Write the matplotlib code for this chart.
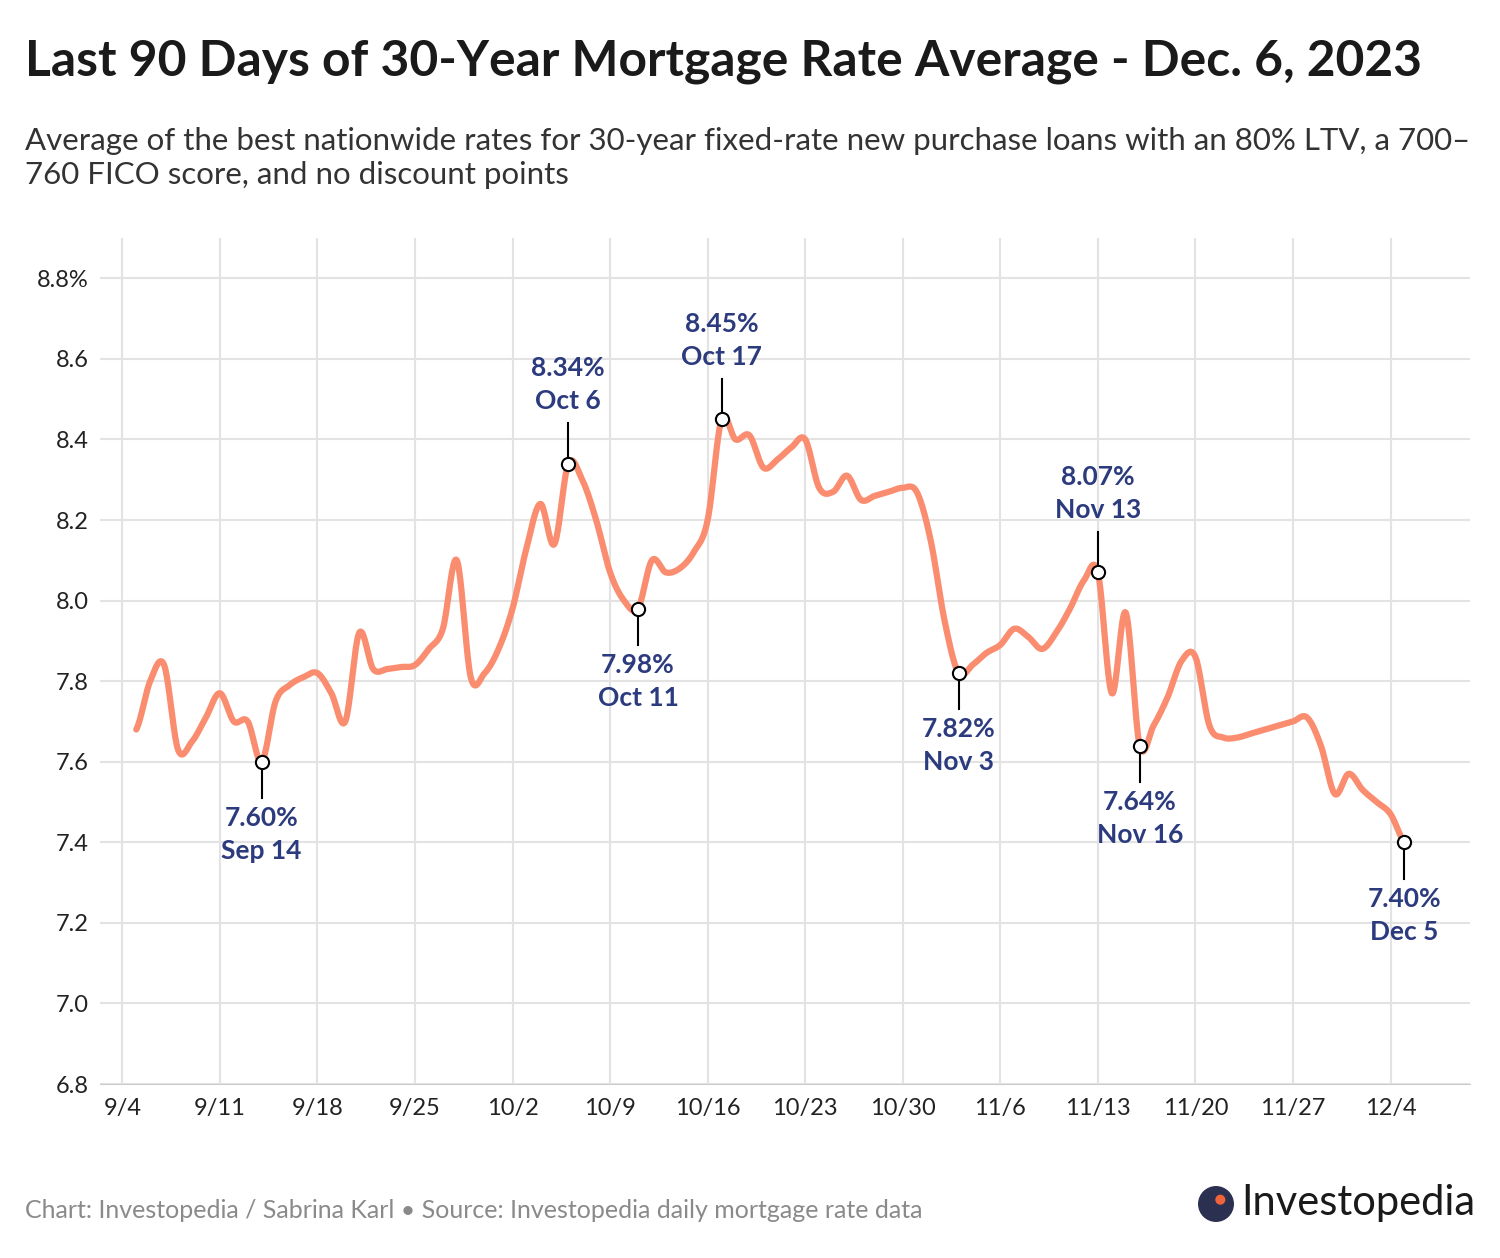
import matplotlib
matplotlib.use("Agg")
import matplotlib.pyplot as plt
import matplotlib.dates as mdates
import numpy as np
import datetime as dt

plt.rcParams['font.family'] = ['Lato', 'DejaVu Sans']

start = dt.date(2023, 9, 5)
rates = [7.68, 7.80, 7.84, 7.63, 7.65, 7.71, 7.77, 7.70, 7.70, 7.60,
         7.75, 7.79, 7.81, 7.82, 7.77, 7.70, 7.92, 7.83, 7.83, 7.835,
         7.84, 7.88, 7.93, 8.10, 7.81, 7.82, 7.88, 7.98, 8.13, 8.24,
         8.14, 8.34, 8.30, 8.20, 8.07, 8.00, 7.98, 8.10, 8.07, 8.08,
         8.12, 8.20, 8.45, 8.40, 8.41, 8.33, 8.35, 8.38, 8.40, 8.28,
         8.27, 8.31, 8.25, 8.26, 8.27, 8.28, 8.27, 8.15, 7.95, 7.82,
         7.84, 7.87, 7.89, 7.93, 7.91, 7.88, 7.92, 7.98, 8.05, 8.07,
         7.77, 7.97, 7.64, 7.69, 7.76, 7.85, 7.86, 7.69, 7.66, 7.66,
         7.67, 7.68, 7.69, 7.70, 7.71, 7.64, 7.52, 7.57, 7.53, 7.50,
         7.47, 7.40]
dates = [start + dt.timedelta(days=i) for i in range(len(rates))]
ann_dates = ["2023-09-14", "2023-10-06", "2023-10-11", "2023-10-17", "2023-11-03", "2023-11-13", "2023-11-16", "2023-12-05"]
ann_labels = ["7.60%\nSep 14", "8.34%\nOct 6", "7.98%\nOct 11", "8.45%\nOct 17", "7.82%\nNov 3", "8.07%\nNov 13", "7.64%\nNov 16", "7.40%\nDec 5"]
ann_up = [False, True, False, True, False, True, False, False]
yticks = [6.8, 7.0, 7.2, 7.4, 7.6, 7.8, 8.0, 8.2, 8.4, 8.6, 8.8]
ytick_labels = ["6.8", "7.0", "7.2", "7.4", "7.6", "7.8", "8.0", "8.2", "8.4", "8.6", "8.8%"]

# Catmull-Rom smoothing for drawing only
x = mdates.date2num(dates)
y = np.array(rates)
xs, ys = [], []
n = len(x)
for i in range(n - 1):
    p0 = y[max(i - 1, 0)]; p1 = y[i]; p2 = y[i + 1]; p3 = y[min(i + 2, n - 1)]
    t = np.linspace(0, 1, 20, endpoint=False)
    seg = 0.5 * ((2 * p1) + (-p0 + p2) * t + (2 * p0 - 5 * p1 + 4 * p2 - p3) * t**2 + (-p0 + 3 * p1 - 3 * p2 + p3) * t**3)
    xs.extend(x[i] + t * (x[i + 1] - x[i])); ys.extend(seg)
xs.append(x[-1]); ys.append(y[-1])

fig = plt.figure(figsize=(15, 12.58), dpi=100)
ax = fig.add_axes([100/1500, 1-1084/1258, 1370/1500, (1084-238)/1258])
ax.plot(xs, ys, color='#fa8d6f', lw=4.5, solid_capstyle='round', zorder=3)

navy = '#2c3a7e'
for d, lab, up in zip(ann_dates, ann_labels, ann_up):
    dd = dt.date.fromisoformat(d)
    xv = mdates.date2num(dd); yv = rates[(dd - start).days]
    if up:
        ax.plot([xv, xv], [yv, yv + 0.10], color='black', lw=1.5, zorder=4)
        ax.text(xv, yv + 0.125, lab, ha='center', va='bottom', color=navy, fontsize=19, fontweight='bold', linespacing=1.45)
    else:
        ax.plot([xv, xv], [yv, yv - 0.09], color='black', lw=1.5, zorder=4)
        ax.text(xv, yv - 0.11, lab, ha='center', va='top', color=navy, fontsize=19, fontweight='bold', linespacing=1.45)
    ax.scatter([xv], [yv], s=90, facecolor='white', edgecolor='black', lw=1.5, zorder=5)

ax.set_ylim(6.8, 8.9)
ax.set_xlim(mdates.date2num(dt.date(2023, 9, 4)) - 1.6, mdates.date2num(dt.date(2023, 12, 4)) + 5.7)
ax.set_yticks(yticks)
ax.set_yticklabels(ytick_labels)
xt = [dt.date(2023, 9, 4) + dt.timedelta(days=7 * k) for k in range(14)]
ax.set_xticks(mdates.date2num(xt))
ax.set_xticklabels([f"{d.month}/{d.day}" for d in xt])
ax.grid(True, color='#e3e3e3', lw=1.5)
ax.set_axisbelow(True)
for s in ['top', 'right', 'left']:
    ax.spines[s].set_visible(False)
ax.spines['bottom'].set_color('#cccccc')
ax.tick_params(axis='both', length=0, labelsize=17, colors='#222222')
ax.tick_params(axis='x', pad=10)
ax.tick_params(axis='y', pad=8)

fig.text(25/1500, 1-62/1258, "Last 90 Days of 30-Year Mortgage Rate Average - Dec. 6, 2023", fontsize=35.8, fontweight='bold', color='#1a1a1a', va='center')
fig.text(25/1500, 1-158/1258, "Average of the best nationwide rates for 30-year fixed-rate new purchase loans with an 80% LTV, a 700–\n760 FICO score, and no discount points",
         fontsize=22.5, color='#333333', va='center', linespacing=1.25)
fig.text(25/1500, 1-1211/1258, "Chart: Investopedia / Sabrina Karl • Source: Investopedia daily mortgage rate data", fontsize=18, color='#8a8a8a', va='center')
fig.text(1475/1500, 1-1203/1258, "Investopedia", fontsize=30, color='#1a1a1a', ha='right', va='center')
logo = fig.add_axes([1198/1500, 1-1222/1258, 36/1500, 36/1258])
logo.add_patch(plt.Circle((0.5, 0.5), 0.48, color='#2c3050'))
logo.add_patch(plt.Circle((0.62, 0.62), 0.12, color='#f0643c'))
logo.set_xlim(0, 1); logo.set_ylim(0, 1); logo.axis('off')

fig.savefig("out.png", dpi=100)
